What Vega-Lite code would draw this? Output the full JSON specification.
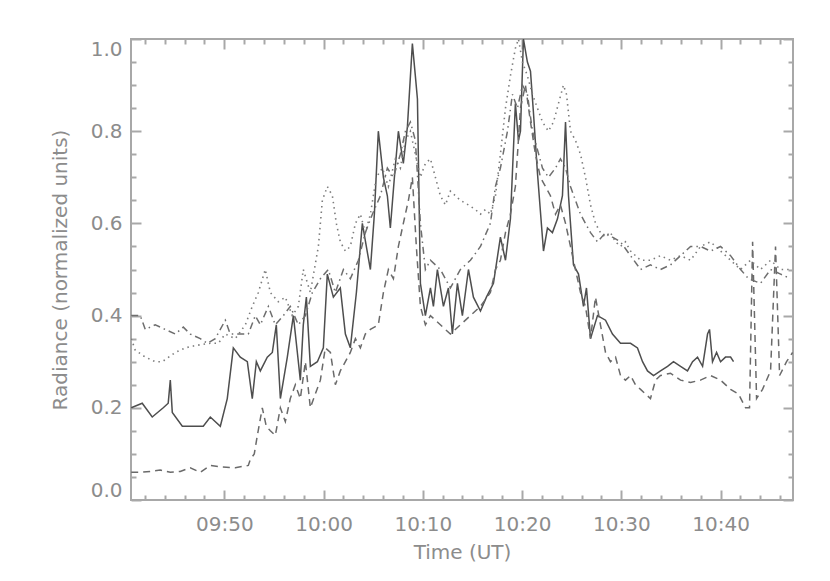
{
"$schema": "https://vega.github.io/schema/vega-lite/v6.json",
"width": 662,
"height": 461,
"autosize": {"type": "none"},
"padding": {"left": 131, "top": 39, "right": 37, "bottom": 81},
"background": "white",
"config": {
  "view": {"stroke": "#a8a8a8", "strokeWidth": 2},
  "axis": {"domain": false, "grid": false, "labelFont": "DejaVu Sans", "labelFontSize": 20, "labelColor": "#8c8c8c", "titleFont": "DejaVu Sans", "titleFontSize": 20, "titleFontWeight": "normal", "titleColor": "#8c8c8c", "tickColor": "#a8a8a8", "tickWidth": 2, "labelOverlap": false}
},
"data": {"values": [
{"s":"solid","t":40.62,"v":0.20},{"s":"solid","t":41.73,"v":0.21},{"s":"solid","t":42.74,"v":0.18},{"s":"solid","t":43.85,"v":0.20},{"s":"solid","t":44.35,"v":0.21},{"s":"solid","t":44.56,"v":0.26},{"s":"solid","t":44.76,"v":0.19},{"s":"solid","t":45.77,"v":0.16},{"s":"solid","t":46.77,"v":0.16},{"s":"solid","t":47.88,"v":0.16},{"s":"solid","t":48.59,"v":0.18},{"s":"solid","t":49.60,"v":0.16},{"s":"solid","t":50.30,"v":0.22},{"s":"solid","t":50.91,"v":0.33},{"s":"solid","t":51.61,"v":0.31},{"s":"solid","t":52.32,"v":0.30},{"s":"solid","t":52.82,"v":0.22},{"s":"solid","t":53.23,"v":0.30},{"s":"solid","t":53.63,"v":0.28},{"s":"solid","t":54.33,"v":0.31},{"s":"solid","t":54.84,"v":0.32},{"s":"solid","t":55.24,"v":0.38},{"s":"solid","t":55.65,"v":0.22},{"s":"solid","t":56.35,"v":0.31},{"s":"solid","t":56.96,"v":0.40},{"s":"solid","t":57.36,"v":0.32},{"s":"solid","t":57.66,"v":0.26},{"s":"solid","t":57.96,"v":0.38},{"s":"solid","t":58.27,"v":0.44},{"s":"solid","t":58.67,"v":0.29},{"s":"solid","t":59.38,"v":0.30},{"s":"solid","t":59.98,"v":0.33},{"s":"solid","t":60.38,"v":0.49},{"s":"solid","t":60.99,"v":0.44},{"s":"solid","t":61.69,"v":0.46},{"s":"solid","t":62.20,"v":0.36},{"s":"solid","t":62.70,"v":0.33},{"s":"solid","t":63.31,"v":0.45},{"s":"solid","t":63.91,"v":0.60},{"s":"solid","t":64.31,"v":0.55},{"s":"solid","t":64.72,"v":0.50},{"s":"solid","t":65.12,"v":0.62},{"s":"solid","t":65.52,"v":0.80},{"s":"solid","t":66.03,"v":0.70},{"s":"solid","t":66.43,"v":0.66},{"s":"solid","t":66.73,"v":0.59},{"s":"solid","t":67.14,"v":0.70},{"s":"solid","t":67.54,"v":0.80},{"s":"solid","t":68.04,"v":0.73},{"s":"solid","t":68.45,"v":0.81},{"s":"solid","t":68.95,"v":0.99},{"s":"solid","t":69.25,"v":0.92},{"s":"solid","t":69.46,"v":0.87},{"s":"solid","t":69.76,"v":0.47},{"s":"solid","t":70.26,"v":0.40},{"s":"solid","t":70.77,"v":0.46},{"s":"solid","t":71.07,"v":0.42},{"s":"solid","t":71.47,"v":0.50},{"s":"solid","t":72.08,"v":0.42},{"s":"solid","t":72.58,"v":0.46},{"s":"solid","t":72.98,"v":0.36},{"s":"solid","t":73.49,"v":0.47},{"s":"solid","t":73.99,"v":0.40},{"s":"solid","t":74.60,"v":0.50},{"s":"solid","t":75.10,"v":0.44},{"s":"solid","t":75.81,"v":0.41},{"s":"solid","t":76.41,"v":0.44},{"s":"solid","t":77.12,"v":0.47},{"s":"solid","t":77.82,"v":0.57},{"s":"solid","t":78.33,"v":0.52},{"s":"solid","t":78.83,"v":0.61},{"s":"solid","t":79.33,"v":0.86},{"s":"solid","t":79.64,"v":0.78},{"s":"solid","t":79.84,"v":0.80},{"s":"solid","t":80.14,"v":1.00},{"s":"solid","t":80.54,"v":0.95},{"s":"solid","t":80.85,"v":0.93},{"s":"solid","t":81.15,"v":0.84},{"s":"solid","t":81.55,"v":0.71},{"s":"solid","t":82.16,"v":0.54},{"s":"solid","t":82.56,"v":0.59},{"s":"solid","t":83.06,"v":0.58},{"s":"solid","t":83.57,"v":0.61},{"s":"solid","t":84.07,"v":0.66},{"s":"solid","t":84.38,"v":0.82},{"s":"solid","t":84.68,"v":0.66},{"s":"solid","t":85.18,"v":0.51},{"s":"solid","t":85.69,"v":0.49},{"s":"solid","t":86.19,"v":0.42},{"s":"solid","t":86.49,"v":0.46},{"s":"solid","t":86.90,"v":0.35},{"s":"solid","t":87.60,"v":0.40},{"s":"solid","t":88.41,"v":0.39},{"s":"solid","t":89.11,"v":0.36},{"s":"solid","t":89.92,"v":0.34},{"s":"solid","t":90.93,"v":0.34},{"s":"solid","t":91.63,"v":0.33},{"s":"solid","t":92.14,"v":0.30},{"s":"solid","t":92.64,"v":0.28},{"s":"solid","t":93.25,"v":0.27},{"s":"solid","t":93.95,"v":0.28},{"s":"solid","t":94.66,"v":0.29},{"s":"solid","t":95.26,"v":0.30},{"s":"solid","t":95.97,"v":0.29},{"s":"solid","t":96.67,"v":0.28},{"s":"solid","t":97.18,"v":0.30},{"s":"solid","t":97.68,"v":0.31},{"s":"solid","t":98.19,"v":0.29},{"s":"solid","t":98.69,"v":0.36},{"s":"solid","t":98.89,"v":0.37},{"s":"solid","t":99.19,"v":0.30},{"s":"solid","t":99.60,"v":0.32},{"s":"solid","t":100.00,"v":0.30},{"s":"solid","t":100.50,"v":0.31},{"s":"solid","t":101.01,"v":0.31},{"s":"solid","t":101.31,"v":0.30},
{"s":"dashed","t":40.62,"v":0.06},{"s":"dashed","t":41.53,"v":0.06},{"s":"dashed","t":42.54,"v":0.062},{"s":"dashed","t":43.55,"v":0.065},{"s":"dashed","t":44.56,"v":0.06},{"s":"dashed","t":45.56,"v":0.062},{"s":"dashed","t":46.57,"v":0.07},{"s":"dashed","t":47.58,"v":0.06},{"s":"dashed","t":48.59,"v":0.075},{"s":"dashed","t":49.60,"v":0.072},{"s":"dashed","t":51.11,"v":0.07},{"s":"dashed","t":52.42,"v":0.075},{"s":"dashed","t":52.62,"v":0.088},{"s":"dashed","t":53.02,"v":0.10},{"s":"dashed","t":53.33,"v":0.14},{"s":"dashed","t":53.83,"v":0.20},{"s":"dashed","t":54.23,"v":0.16},{"s":"dashed","t":54.64,"v":0.15},{"s":"dashed","t":55.14,"v":0.14},{"s":"dashed","t":55.65,"v":0.20},{"s":"dashed","t":56.15,"v":0.17},{"s":"dashed","t":56.65,"v":0.22},{"s":"dashed","t":57.16,"v":0.25},{"s":"dashed","t":57.66,"v":0.22},{"s":"dashed","t":58.17,"v":0.30},{"s":"dashed","t":58.67,"v":0.20},{"s":"dashed","t":59.17,"v":0.23},{"s":"dashed","t":59.68,"v":0.26},{"s":"dashed","t":60.18,"v":0.33},{"s":"dashed","t":60.69,"v":0.32},{"s":"dashed","t":61.19,"v":0.25},{"s":"dashed","t":61.69,"v":0.28},{"s":"dashed","t":62.20,"v":0.30},{"s":"dashed","t":62.70,"v":0.32},{"s":"dashed","t":63.21,"v":0.35},{"s":"dashed","t":63.71,"v":0.33},{"s":"dashed","t":64.21,"v":0.36},{"s":"dashed","t":64.72,"v":0.37},{"s":"dashed","t":65.52,"v":0.38},{"s":"dashed","t":66.03,"v":0.45},{"s":"dashed","t":66.53,"v":0.50},{"s":"dashed","t":67.04,"v":0.48},{"s":"dashed","t":67.54,"v":0.55},{"s":"dashed","t":68.04,"v":0.60},{"s":"dashed","t":68.55,"v":0.65},{"s":"dashed","t":68.95,"v":0.70},{"s":"dashed","t":69.35,"v":0.55},{"s":"dashed","t":69.76,"v":0.42},{"s":"dashed","t":70.26,"v":0.38},{"s":"dashed","t":70.77,"v":0.40},{"s":"dashed","t":71.77,"v":0.38},{"s":"dashed","t":72.78,"v":0.36},{"s":"dashed","t":73.79,"v":0.38},{"s":"dashed","t":74.80,"v":0.40},{"s":"dashed","t":75.81,"v":0.42},{"s":"dashed","t":76.81,"v":0.45},{"s":"dashed","t":77.32,"v":0.50},{"s":"dashed","t":77.82,"v":0.52},{"s":"dashed","t":78.33,"v":0.58},{"s":"dashed","t":78.83,"v":0.62},{"s":"dashed","t":79.33,"v":0.68},{"s":"dashed","t":79.84,"v":0.85},{"s":"dashed","t":80.34,"v":0.90},{"s":"dashed","t":80.85,"v":0.82},{"s":"dashed","t":81.35,"v":0.75},{"s":"dashed","t":81.85,"v":0.70},{"s":"dashed","t":82.36,"v":0.68},{"s":"dashed","t":82.86,"v":0.66},{"s":"dashed","t":83.37,"v":0.62},{"s":"dashed","t":83.87,"v":0.64},{"s":"dashed","t":84.38,"v":0.60},{"s":"dashed","t":84.88,"v":0.55},{"s":"dashed","t":85.38,"v":0.50},{"s":"dashed","t":85.89,"v":0.45},{"s":"dashed","t":86.39,"v":0.42},{"s":"dashed","t":86.90,"v":0.35},{"s":"dashed","t":87.40,"v":0.44},{"s":"dashed","t":87.90,"v":0.38},{"s":"dashed","t":88.41,"v":0.32},{"s":"dashed","t":88.91,"v":0.30},{"s":"dashed","t":89.42,"v":0.31},{"s":"dashed","t":89.92,"v":0.27},{"s":"dashed","t":90.42,"v":0.26},{"s":"dashed","t":90.93,"v":0.27},{"s":"dashed","t":91.43,"v":0.25},{"s":"dashed","t":91.94,"v":0.24},{"s":"dashed","t":92.44,"v":0.23},{"s":"dashed","t":92.94,"v":0.22},{"s":"dashed","t":93.45,"v":0.26},{"s":"dashed","t":93.95,"v":0.27},{"s":"dashed","t":94.96,"v":0.275},{"s":"dashed","t":95.97,"v":0.26},{"s":"dashed","t":96.98,"v":0.255},{"s":"dashed","t":97.98,"v":0.26},{"s":"dashed","t":98.99,"v":0.27},{"s":"dashed","t":100.00,"v":0.26},{"s":"dashed","t":101.01,"v":0.24},{"s":"dashed","t":101.81,"v":0.23},{"s":"dashed","t":102.52,"v":0.20},{"s":"dashed","t":102.92,"v":0.20},{"s":"dashed","t":103.23,"v":0.56},{"s":"dashed","t":103.63,"v":0.22},{"s":"dashed","t":104.23,"v":0.24},{"s":"dashed","t":105.04,"v":0.28},{"s":"dashed","t":105.54,"v":0.55},{"s":"dashed","t":105.95,"v":0.27},{"s":"dashed","t":106.65,"v":0.30},{"s":"dashed","t":107.26,"v":0.32},
{"s":"dotted","t":40.62,"v":0.35},{"s":"dotted","t":41.03,"v":0.325},{"s":"dotted","t":42.04,"v":0.31},{"s":"dotted","t":43.04,"v":0.30},{"s":"dotted","t":43.75,"v":0.30},{"s":"dotted","t":45.06,"v":0.32},{"s":"dotted","t":46.07,"v":0.33},{"s":"dotted","t":47.08,"v":0.335},{"s":"dotted","t":48.59,"v":0.34},{"s":"dotted","t":49.40,"v":0.34},{"s":"dotted","t":50.10,"v":0.36},{"s":"dotted","t":51.11,"v":0.35},{"s":"dotted","t":52.12,"v":0.38},{"s":"dotted","t":52.82,"v":0.42},{"s":"dotted","t":53.43,"v":0.45},{"s":"dotted","t":54.13,"v":0.50},{"s":"dotted","t":54.64,"v":0.45},{"s":"dotted","t":55.44,"v":0.43},{"s":"dotted","t":56.15,"v":0.44},{"s":"dotted","t":56.85,"v":0.40},{"s":"dotted","t":57.46,"v":0.42},{"s":"dotted","t":57.96,"v":0.50},{"s":"dotted","t":58.67,"v":0.45},{"s":"dotted","t":59.48,"v":0.55},{"s":"dotted","t":59.88,"v":0.65},{"s":"dotted","t":60.38,"v":0.68},{"s":"dotted","t":60.89,"v":0.66},{"s":"dotted","t":61.29,"v":0.60},{"s":"dotted","t":61.69,"v":0.56},{"s":"dotted","t":62.20,"v":0.54},{"s":"dotted","t":62.70,"v":0.55},{"s":"dotted","t":63.21,"v":0.60},{"s":"dotted","t":63.71,"v":0.62},{"s":"dotted","t":64.21,"v":0.58},{"s":"dotted","t":64.72,"v":0.62},{"s":"dotted","t":65.32,"v":0.70},{"s":"dotted","t":65.93,"v":0.72},{"s":"dotted","t":66.53,"v":0.68},{"s":"dotted","t":67.24,"v":0.74},{"s":"dotted","t":67.74,"v":0.72},{"s":"dotted","t":68.25,"v":0.78},{"s":"dotted","t":68.75,"v":0.80},{"s":"dotted","t":69.25,"v":0.75},{"s":"dotted","t":69.76,"v":0.70},{"s":"dotted","t":70.26,"v":0.73},{"s":"dotted","t":70.77,"v":0.74},{"s":"dotted","t":71.27,"v":0.70},{"s":"dotted","t":71.77,"v":0.66},{"s":"dotted","t":72.28,"v":0.64},{"s":"dotted","t":72.78,"v":0.67},{"s":"dotted","t":73.29,"v":0.66},{"s":"dotted","t":73.79,"v":0.65},{"s":"dotted","t":74.60,"v":0.64},{"s":"dotted","t":75.30,"v":0.63},{"s":"dotted","t":75.81,"v":0.62},{"s":"dotted","t":76.31,"v":0.63},{"s":"dotted","t":76.81,"v":0.62},{"s":"dotted","t":77.32,"v":0.66},{"s":"dotted","t":77.82,"v":0.75},{"s":"dotted","t":78.33,"v":0.85},{"s":"dotted","t":78.83,"v":0.92},{"s":"dotted","t":79.33,"v":0.98},{"s":"dotted","t":79.64,"v":1.00},{"s":"dotted","t":80.04,"v":0.95},{"s":"dotted","t":80.54,"v":0.92},{"s":"dotted","t":81.05,"v":0.88},{"s":"dotted","t":81.55,"v":0.85},{"s":"dotted","t":82.06,"v":0.82},{"s":"dotted","t":82.66,"v":0.80},{"s":"dotted","t":83.17,"v":0.82},{"s":"dotted","t":83.67,"v":0.86},{"s":"dotted","t":84.17,"v":0.90},{"s":"dotted","t":84.48,"v":0.88},{"s":"dotted","t":84.88,"v":0.80},{"s":"dotted","t":85.38,"v":0.78},{"s":"dotted","t":85.89,"v":0.75},{"s":"dotted","t":86.39,"v":0.70},{"s":"dotted","t":86.90,"v":0.64},{"s":"dotted","t":87.40,"v":0.60},{"s":"dotted","t":87.90,"v":0.58},{"s":"dotted","t":88.41,"v":0.57},{"s":"dotted","t":88.91,"v":0.58},{"s":"dotted","t":89.42,"v":0.56},{"s":"dotted","t":89.92,"v":0.55},{"s":"dotted","t":90.42,"v":0.56},{"s":"dotted","t":90.93,"v":0.54},{"s":"dotted","t":91.94,"v":0.52},{"s":"dotted","t":92.94,"v":0.52},{"s":"dotted","t":93.95,"v":0.53},{"s":"dotted","t":94.96,"v":0.52},{"s":"dotted","t":95.97,"v":0.53},{"s":"dotted","t":96.98,"v":0.52},{"s":"dotted","t":97.98,"v":0.55},{"s":"dotted","t":98.99,"v":0.56},{"s":"dotted","t":100.00,"v":0.54},{"s":"dotted","t":101.01,"v":0.52},{"s":"dotted","t":102.02,"v":0.50},{"s":"dotted","t":103.02,"v":0.52},{"s":"dotted","t":104.03,"v":0.50},{"s":"dotted","t":105.04,"v":0.52},{"s":"dotted","t":106.05,"v":0.50},{"s":"dotted","t":107.06,"v":0.50},
{"s":"dashdot","t":40.62,"v":0.40},{"s":"dashdot","t":41.53,"v":0.40},{"s":"dashdot","t":42.04,"v":0.37},{"s":"dashdot","t":43.04,"v":0.38},{"s":"dashdot","t":44.05,"v":0.37},{"s":"dashdot","t":45.06,"v":0.36},{"s":"dashdot","t":45.87,"v":0.375},{"s":"dashdot","t":46.57,"v":0.36},{"s":"dashdot","t":47.58,"v":0.35},{"s":"dashdot","t":48.29,"v":0.34},{"s":"dashdot","t":49.09,"v":0.35},{"s":"dashdot","t":50.10,"v":0.39},{"s":"dashdot","t":50.60,"v":0.36},{"s":"dashdot","t":51.61,"v":0.36},{"s":"dashdot","t":52.42,"v":0.36},{"s":"dashdot","t":53.12,"v":0.40},{"s":"dashdot","t":53.63,"v":0.38},{"s":"dashdot","t":54.44,"v":0.42},{"s":"dashdot","t":55.14,"v":0.38},{"s":"dashdot","t":55.95,"v":0.40},{"s":"dashdot","t":56.65,"v":0.42},{"s":"dashdot","t":57.46,"v":0.38},{"s":"dashdot","t":58.17,"v":0.40},{"s":"dashdot","t":58.87,"v":0.45},{"s":"dashdot","t":59.68,"v":0.48},{"s":"dashdot","t":60.48,"v":0.50},{"s":"dashdot","t":61.19,"v":0.45},{"s":"dashdot","t":62.00,"v":0.50},{"s":"dashdot","t":62.70,"v":0.48},{"s":"dashdot","t":63.51,"v":0.52},{"s":"dashdot","t":64.21,"v":0.58},{"s":"dashdot","t":64.92,"v":0.62},{"s":"dashdot","t":65.73,"v":0.66},{"s":"dashdot","t":66.43,"v":0.72},{"s":"dashdot","t":67.04,"v":0.70},{"s":"dashdot","t":67.74,"v":0.75},{"s":"dashdot","t":68.25,"v":0.80},{"s":"dashdot","t":68.75,"v":0.82},{"s":"dashdot","t":69.25,"v":0.78},{"s":"dashdot","t":69.76,"v":0.60},{"s":"dashdot","t":70.26,"v":0.50},{"s":"dashdot","t":70.77,"v":0.52},{"s":"dashdot","t":71.77,"v":0.50},{"s":"dashdot","t":72.78,"v":0.46},{"s":"dashdot","t":73.79,"v":0.50},{"s":"dashdot","t":74.80,"v":0.52},{"s":"dashdot","t":75.81,"v":0.55},{"s":"dashdot","t":76.81,"v":0.60},{"s":"dashdot","t":77.32,"v":0.68},{"s":"dashdot","t":77.82,"v":0.72},{"s":"dashdot","t":78.53,"v":0.80},{"s":"dashdot","t":79.03,"v":0.88},{"s":"dashdot","t":79.54,"v":0.85},{"s":"dashdot","t":80.04,"v":0.90},{"s":"dashdot","t":80.54,"v":0.88},{"s":"dashdot","t":81.05,"v":0.80},{"s":"dashdot","t":81.55,"v":0.76},{"s":"dashdot","t":82.06,"v":0.72},{"s":"dashdot","t":82.66,"v":0.70},{"s":"dashdot","t":83.37,"v":0.72},{"s":"dashdot","t":83.87,"v":0.74},{"s":"dashdot","t":84.38,"v":0.72},{"s":"dashdot","t":84.88,"v":0.68},{"s":"dashdot","t":85.38,"v":0.65},{"s":"dashdot","t":85.89,"v":0.62},{"s":"dashdot","t":86.39,"v":0.60},{"s":"dashdot","t":86.90,"v":0.58},{"s":"dashdot","t":87.60,"v":0.56},{"s":"dashdot","t":88.41,"v":0.58},{"s":"dashdot","t":89.11,"v":0.57},{"s":"dashdot","t":89.92,"v":0.56},{"s":"dashdot","t":90.93,"v":0.53},{"s":"dashdot","t":91.94,"v":0.50},{"s":"dashdot","t":92.94,"v":0.51},{"s":"dashdot","t":93.95,"v":0.50},{"s":"dashdot","t":94.96,"v":0.51},{"s":"dashdot","t":95.97,"v":0.53},{"s":"dashdot","t":96.98,"v":0.55},{"s":"dashdot","t":97.98,"v":0.55},{"s":"dashdot","t":98.99,"v":0.54},{"s":"dashdot","t":100.00,"v":0.55},{"s":"dashdot","t":101.01,"v":0.53},{"s":"dashdot","t":102.02,"v":0.50},{"s":"dashdot","t":102.82,"v":0.48},{"s":"dashdot","t":104.03,"v":0.47},{"s":"dashdot","t":105.04,"v":0.50},{"s":"dashdot","t":106.05,"v":0.49},{"s":"dashdot","t":107.06,"v":0.48}
]},
"layer": [
  {
    "transform": [{"filter": "datum.s === 'solid'"}],
    "mark": {"type": "line", "color": "#4e4e4e", "strokeWidth": 1.5, "clip": true},
    "encoding": {
      "x": {"field": "t", "type": "quantitative", "scale": {"domain": [40.6, 107.3], "nice": false, "zero": false},
        "axis": {"orient": "bottom", "values": [50, 60, 70, 80, 90, 100], "labelExpr": "format(floor(datum.value/60)+9,'02d') + ':' + format(datum.value%60,'02d')", "ticks": false, "labelPadding": 14, "title": "Time (UT)", "titlePadding": 8}},
      "y": {"field": "v", "type": "quantitative", "scale": {"domain": [0, 1], "nice": false},
        "axis": {"orient": "left", "values": [0, 0.2, 0.4, 0.6, 0.8, 1.0], "format": ".1f", "ticks": false, "labelPadding": 9, "labelFlush": true, "title": "Radiance (normalized units)", "titlePadding": 20}}
    }
  },
  {
    "transform": [{"filter": "datum.s === 'dashed'"}],
    "mark": {"type": "line", "color": "#6a6a6a", "strokeWidth": 1.5, "strokeDash": [7, 5], "clip": true},
    "encoding": {
      "x": {"field": "t", "type": "quantitative", "scale": {"domain": [40.6, 107.3], "nice": false, "zero": false},
        "axis": {"orient": "bottom", "values": [50, 60, 70, 80, 90, 100], "labels": false, "title": null, "tickSize": -10}},
      "y": {"field": "v", "type": "quantitative", "scale": {"domain": [0, 1], "nice": false},
        "axis": {"orient": "left", "values": [0, 0.2, 0.4, 0.6, 0.8, 1.0], "labels": false, "title": null, "tickSize": -10}}
    }
  },
  {
    "transform": [{"filter": "datum.s === 'dotted'"}],
    "mark": {"type": "line", "color": "#7c7c7c", "strokeWidth": 1.6, "strokeDash": [1.5, 4], "clip": true},
    "encoding": {
      "x": {"field": "t", "type": "quantitative", "scale": {"domain": [40.6, 107.3], "nice": false, "zero": false},
        "axis": {"orient": "bottom", "values": [42, 44, 46, 48, 52, 54, 56, 58, 62, 64, 66, 68, 72, 74, 76, 78, 82, 84, 86, 88, 92, 94, 96, 98, 102, 104, 106], "labels": false, "title": null, "tickSize": -5}},
      "y": {"field": "v", "type": "quantitative", "scale": {"domain": [0, 1], "nice": false},
        "axis": {"orient": "left", "values": [0.05, 0.1, 0.15, 0.25, 0.3, 0.35, 0.45, 0.5, 0.55, 0.65, 0.7, 0.75, 0.85, 0.9, 0.95], "labels": false, "title": null, "tickSize": -5}}
    }
  },
  {
    "transform": [{"filter": "datum.s === 'dashdot'"}],
    "mark": {"type": "line", "color": "#6e6e6e", "strokeWidth": 1.5, "strokeDash": [7, 4, 1.5, 4], "clip": true},
    "encoding": {
      "x": {"field": "t", "type": "quantitative", "scale": {"domain": [40.6, 107.3], "nice": false, "zero": false},
        "axis": {"orient": "top", "values": [50, 60, 70, 80, 90, 100], "labels": false, "title": null, "tickSize": -10}},
      "y": {"field": "v", "type": "quantitative", "scale": {"domain": [0, 1], "nice": false},
        "axis": {"orient": "right", "values": [0, 0.2, 0.4, 0.6, 0.8, 1.0], "labels": false, "title": null, "tickSize": -10}}
    }
  },
  {
    "transform": [{"filter": "datum.s === 'solid'"}],
    "mark": {"type": "line", "strokeOpacity": 0, "clip": true},
    "encoding": {
      "x": {"field": "t", "type": "quantitative", "scale": {"domain": [40.6, 107.3], "nice": false, "zero": false},
        "axis": {"orient": "top", "values": [42, 44, 46, 48, 52, 54, 56, 58, 62, 64, 66, 68, 72, 74, 76, 78, 82, 84, 86, 88, 92, 94, 96, 98, 102, 104, 106], "labels": false, "title": null, "tickSize": -5}},
      "y": {"field": "v", "type": "quantitative", "scale": {"domain": [0, 1], "nice": false},
        "axis": {"orient": "right", "values": [0.05, 0.1, 0.15, 0.25, 0.3, 0.35, 0.45, 0.5, 0.55, 0.65, 0.7, 0.75, 0.85, 0.9, 0.95], "labels": false, "title": null, "tickSize": -5}}
    }
  }
],
"resolve": {"axis": {"x": "independent", "y": "independent"}}
}
